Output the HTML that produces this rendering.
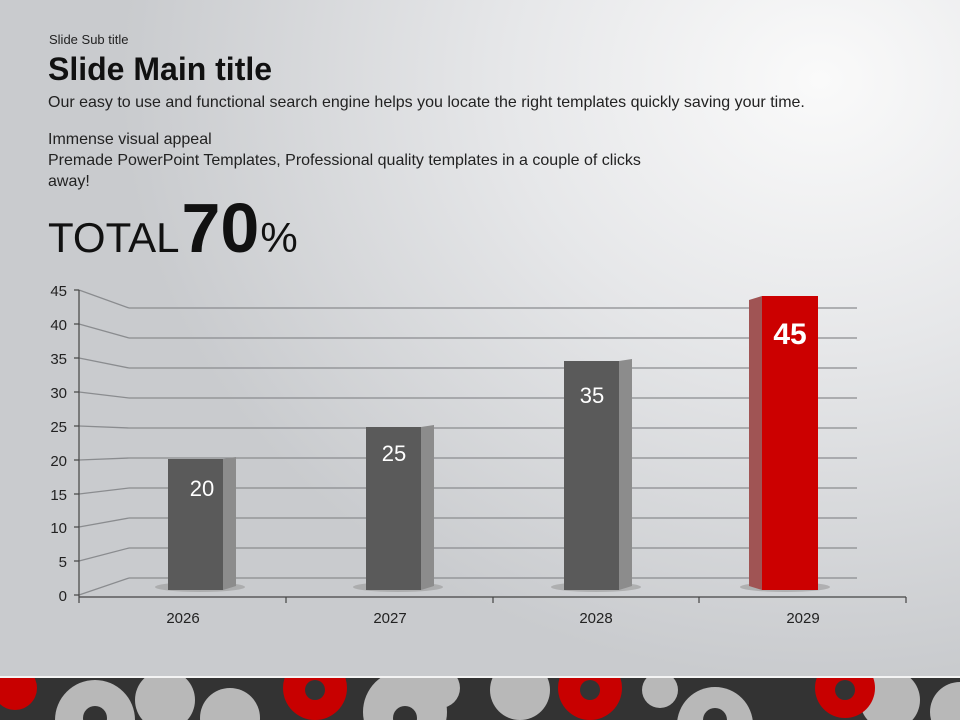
<!DOCTYPE html>
<html><head><meta charset="utf-8"><style>
html,body{margin:0;width:960px;height:720px;overflow:hidden;font-family:"Liberation Sans","DejaVu Sans",sans-serif;}
.bg{position:absolute;left:0;top:0;width:960px;height:720px;background:radial-gradient(ellipse 700px 600px at 820px 80px,#fafafa 0%,#e6e7e9 45%,#c9cbce 100%);}
.t{position:absolute;color:#222;white-space:nowrap}
</style></head><body>
<div class="bg"></div>
<div class="t" style="left:49px;top:32px;font-size:13px">Slide Sub title</div>
<div class="t" style="left:48px;top:51px;font-size:32px;font-weight:bold;color:#111">Slide Main title</div>
<div class="t" style="left:48px;top:94px;font-size:16px">Our easy to use and functional search engine helps you locate the right templates quickly saving your time.</div>
<div class="t" style="left:48px;top:129px;font-size:16px;line-height:21px">Immense visual appeal<br>Premade PowerPoint Templates, Professional quality templates in a couple of clicks<br>away!</div>
<svg style="position:absolute;left:0;top:0;display:block" width="960" height="720">
<text x="48" y="252" font-size="42" fill="#111">TOTAL<tspan font-size="70" font-weight="bold" dx="2">70</tspan><tspan dx="1">%</tspan></text>
<g stroke="#8a8c8f" stroke-width="1.3" fill="none">
<line x1="79" y1="290" x2="129" y2="308"/><line x1="129" y1="308" x2="857" y2="308"/>
<line x1="79" y1="324" x2="129" y2="338"/><line x1="129" y1="338" x2="857" y2="338"/>
<line x1="79" y1="358" x2="129" y2="368"/><line x1="129" y1="368" x2="857" y2="368"/>
<line x1="79" y1="392" x2="129" y2="398"/><line x1="129" y1="398" x2="857" y2="398"/>
<line x1="79" y1="426" x2="129" y2="428"/><line x1="129" y1="428" x2="857" y2="428"/>
<line x1="79" y1="460" x2="129" y2="458"/><line x1="129" y1="458" x2="857" y2="458"/>
<line x1="79" y1="494" x2="129" y2="488"/><line x1="129" y1="488" x2="857" y2="488"/>
<line x1="79" y1="527" x2="129" y2="518"/><line x1="129" y1="518" x2="857" y2="518"/>
<line x1="79" y1="561" x2="129" y2="548"/><line x1="129" y1="548" x2="857" y2="548"/>
<line x1="79" y1="595" x2="129" y2="578"/><line x1="129" y1="578" x2="857" y2="578"/>
</g>
<g stroke="#444" stroke-width="1.2">
<line x1="79" y1="290" x2="79" y2="597"/><line x1="79" y1="597" x2="906" y2="597"/>
<line x1="74" y1="290" x2="79" y2="290"/><line x1="74" y1="324" x2="79" y2="324"/><line x1="74" y1="358" x2="79" y2="358"/><line x1="74" y1="392" x2="79" y2="392"/><line x1="74" y1="426" x2="79" y2="426"/><line x1="74" y1="460" x2="79" y2="460"/><line x1="74" y1="494" x2="79" y2="494"/><line x1="74" y1="527" x2="79" y2="527"/><line x1="74" y1="561" x2="79" y2="561"/><line x1="74" y1="595" x2="79" y2="595"/>
<line x1="79" y1="597" x2="79" y2="603"/><line x1="286" y1="597" x2="286" y2="603"/><line x1="493" y1="597" x2="493" y2="603"/><line x1="699" y1="597" x2="699" y2="603"/><line x1="906" y1="597" x2="906" y2="603"/>
</g>
<g font-size="15" fill="#222" text-anchor="end">
<text x="67" y="296">45</text><text x="67" y="330">40</text><text x="67" y="364">35</text><text x="67" y="398">30</text><text x="67" y="432">25</text><text x="67" y="466">20</text><text x="67" y="500">15</text><text x="67" y="533">10</text><text x="67" y="567">5</text><text x="67" y="601">0</text>
</g>
<g font-size="15" fill="#222" text-anchor="middle">
<text x="183" y="623">2026</text><text x="390" y="623">2027</text><text x="596" y="623">2028</text><text x="803" y="623">2029</text>
</g>
<g fill="#999" opacity="0.6">
<ellipse cx="200" cy="587" rx="45" ry="5"/><ellipse cx="398" cy="587" rx="45" ry="5"/><ellipse cx="596" cy="587" rx="45" ry="5"/><ellipse cx="785" cy="587" rx="45" ry="5"/>
</g>
<polygon points="223,459 236,457 236,586 223,590" fill="#8c8c8c"/>
<rect x="168" y="459" width="55" height="131" fill="#5a5a5a"/>
<polygon points="421,427 434,425 434,586 421,590" fill="#8c8c8c"/>
<rect x="366" y="427" width="55" height="163" fill="#5a5a5a"/>
<polygon points="619,361 632,359 632,586 619,590" fill="#8c8c8c"/>
<rect x="564" y="361" width="55" height="229" fill="#5a5a5a"/>
<polygon points="749,300 762,296 762,590 749,586" fill="#a05454"/>
<rect x="762" y="296" width="56" height="294" fill="#cc0000"/>
<g fill="#fff" font-size="22" text-anchor="middle">
<text x="202" y="496">20</text><text x="394" y="461">25</text><text x="592" y="403">35</text>
<text x="790" y="344" font-size="30" font-weight="bold">45</text>
</g>
<clipPath id="c"><rect x="0" y="678" width="960" height="42"/></clipPath>
<rect x="0" y="676" width="960" height="2" fill="#f4f4f4"/>
<g clip-path="url(#c)">
<rect x="0" y="678" width="960" height="42" fill="#333"/>
<g fill="#b8b8b8">
<circle cx="95" cy="720" r="40"/><circle cx="165" cy="700" r="30"/><circle cx="230" cy="718" r="30"/><circle cx="405" cy="712" r="42"/><circle cx="520" cy="690" r="30"/><circle cx="440" cy="688" r="20"/><circle cx="715" cy="725" r="38"/><circle cx="660" cy="690" r="18"/><circle cx="890" cy="700" r="30"/><circle cx="960" cy="712" r="30"/>
</g>
<g fill="#c80000">
<circle cx="15" cy="688" r="22"/><circle cx="315" cy="688" r="32"/><circle cx="590" cy="688" r="32"/><circle cx="845" cy="688" r="30"/>
</g>
<g fill="#333"><circle cx="95" cy="718" r="12"/><circle cx="405" cy="718" r="12"/><circle cx="715" cy="720" r="12"/><circle cx="590" cy="690" r="10"/><circle cx="315" cy="690" r="10"/><circle cx="845" cy="690" r="10"/></g>
</g>
</svg>
</body></html>
